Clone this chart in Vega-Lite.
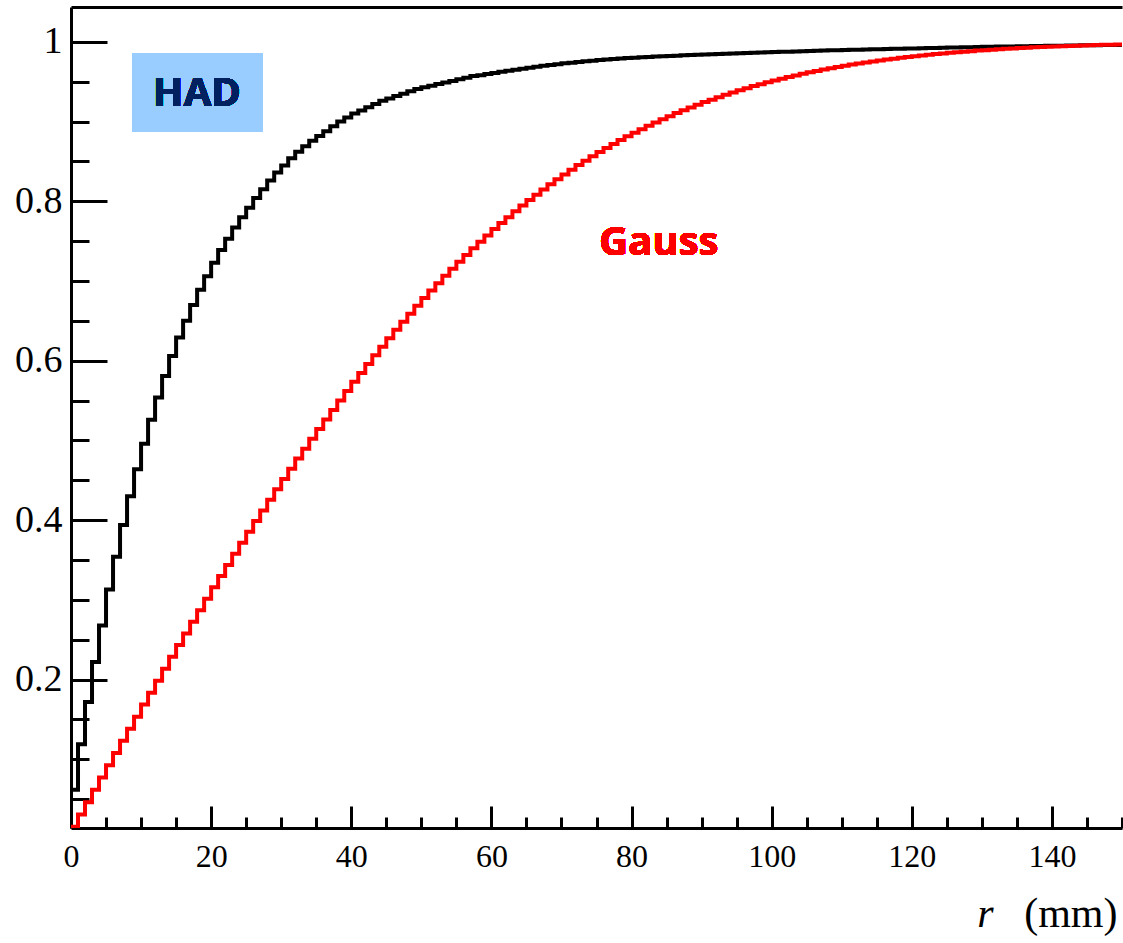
{
  "$schema": "https://vega.github.io/schema/vega-lite/v6.json",
  "autosize": {"type": "none"},
  "padding": {"left": 71, "top": 7, "right": 1, "bottom": 115},
  "width": 1051,
  "height": 821,
  "background": "white",
  "config": {"view": {"stroke": null}},
  "data": {"values": [
    {"r":0,"had":0.062,"gauss":0.0154},{"r":1,"had":0.119,"gauss":0.0309},{"r":2,"had":0.172,"gauss":0.0463},{"r":3,"had":0.222,"gauss":0.0618},{"r":4,"had":0.268,"gauss":0.0771},
    {"r":5,"had":0.313,"gauss":0.0925},{"r":6,"had":0.354,"gauss":0.1079},{"r":7,"had":0.394,"gauss":0.1232},{"r":8,"had":0.430,"gauss":0.1383},{"r":9,"had":0.464,"gauss":0.1535},
    {"r":10,"had":0.496,"gauss":0.1688},{"r":11,"had":0.526,"gauss":0.1837},{"r":12,"had":0.554,"gauss":0.1987},{"r":13,"had":0.581,"gauss":0.2137},{"r":14,"had":0.606,"gauss":0.2286},
    {"r":15,"had":0.629,"gauss":0.2433},{"r":16,"had":0.650,"gauss":0.2580},{"r":17,"had":0.670,"gauss":0.2726},{"r":18,"had":0.689,"gauss":0.2871},{"r":19,"had":0.706,"gauss":0.3014},
    {"r":20,"had":0.723,"gauss":0.3158},{"r":21,"had":0.739,"gauss":0.3300},{"r":22,"had":0.753,"gauss":0.3439},{"r":23,"had":0.767,"gauss":0.3578},{"r":24,"had":0.780,"gauss":0.3717},
    {"r":25,"had":0.792,"gauss":0.3855},{"r":26,"had":0.804,"gauss":0.3989},{"r":27,"had":0.815,"gauss":0.4123},{"r":28,"had":0.826,"gauss":0.4257},{"r":29,"had":0.836,"gauss":0.4387},
    {"r":30,"had":0.845,"gauss":0.4516},{"r":31,"had":0.854,"gauss":0.4645},{"r":32,"had":0.862,"gauss":0.4773},{"r":33,"had":0.869,"gauss":0.4896},{"r":34,"had":0.876,"gauss":0.5020},
    {"r":35,"had":0.882,"gauss":0.5144},{"r":36,"had":0.888,"gauss":0.5264},{"r":37,"had":0.894,"gauss":0.5383},{"r":38,"had":0.900,"gauss":0.5502},{"r":39,"had":0.905,"gauss":0.5621},
    {"r":40,"had":0.910,"gauss":0.5735},{"r":41,"had":0.914,"gauss":0.5847},{"r":42,"had":0.918,"gauss":0.5960},{"r":43,"had":0.922,"gauss":0.6070},{"r":44,"had":0.926,"gauss":0.6177},
    {"r":45,"had":0.929,"gauss":0.6282},{"r":46,"had":0.932,"gauss":0.6389},{"r":47,"had":0.935,"gauss":0.6490},{"r":48,"had":0.938,"gauss":0.6589},{"r":49,"had":0.941,"gauss":0.6689},
    {"r":50,"had":0.943,"gauss":0.6787},{"r":51,"had":0.945,"gauss":0.6880},{"r":52,"had":0.947,"gauss":0.6973},{"r":53,"had":0.949,"gauss":0.7065},{"r":54,"had":0.951,"gauss":0.7155},
    {"r":55,"had":0.953,"gauss":0.7241},{"r":56,"had":0.955,"gauss":0.7326},{"r":57,"had":0.957,"gauss":0.7412},{"r":58,"had":0.958,"gauss":0.7492},{"r":59,"had":0.9596,"gauss":0.7572},
    {"r":60,"had":0.9610,"gauss":0.7651},{"r":61,"had":0.9624,"gauss":0.7729},{"r":62,"had":0.9638,"gauss":0.7801},{"r":63,"had":0.9651,"gauss":0.7874},{"r":64,"had":0.9664,"gauss":0.7947},
    {"r":65,"had":0.9676,"gauss":0.8016},{"r":66,"had":0.9688,"gauss":0.8082},{"r":67,"had":0.9699,"gauss":0.8149},{"r":68,"had":0.9710,"gauss":0.8215},{"r":69,"had":0.9720,"gauss":0.8276},
    {"r":70,"had":0.9730,"gauss":0.8336},{"r":71,"had":0.9739,"gauss":0.8397},{"r":72,"had":0.9748,"gauss":0.8454},{"r":73,"had":0.9756,"gauss":0.8509},{"r":74,"had":0.9764,"gauss":0.8564},
    {"r":75,"had":0.9771,"gauss":0.8619},{"r":76,"had":0.9778,"gauss":0.8669},{"r":77,"had":0.9784,"gauss":0.8718},{"r":78,"had":0.9790,"gauss":0.8768},{"r":79,"had":0.9796,"gauss":0.8815},
    {"r":80,"had":0.9801,"gauss":0.8860},{"r":81,"had":0.9806,"gauss":0.8904},{"r":82,"had":0.9811,"gauss":0.8948},{"r":83,"had":0.9815,"gauss":0.8989},{"r":84,"had":0.9819,"gauss":0.9028},
    {"r":85,"had":0.9823,"gauss":0.9068},{"r":86,"had":0.9827,"gauss":0.9107},{"r":87,"had":0.9831,"gauss":0.9142},{"r":88,"had":0.9835,"gauss":0.9177},{"r":89,"had":0.9838,"gauss":0.9212},
    {"r":90,"had":0.9842,"gauss":0.9244},{"r":91,"had":0.9845,"gauss":0.9275},{"r":92,"had":0.9848,"gauss":0.9306},{"r":93,"had":0.9851,"gauss":0.9337},{"r":94,"had":0.9854,"gauss":0.9364},
    {"r":95,"had":0.9857,"gauss":0.9392},{"r":96,"had":0.9860,"gauss":0.9419},{"r":97,"had":0.9863,"gauss":0.9445},{"r":98,"had":0.9866,"gauss":0.9468},{"r":99,"had":0.9869,"gauss":0.9492},
    {"r":100,"had":0.9872,"gauss":0.9516},{"r":101,"had":0.9875,"gauss":0.9537},{"r":102,"had":0.9877,"gauss":0.9558},{"r":103,"had":0.9880,"gauss":0.9579},{"r":104,"had":0.9883,"gauss":0.9599},
    {"r":105,"had":0.9885,"gauss":0.9617},{"r":106,"had":0.9888,"gauss":0.9634},{"r":107,"had":0.9890,"gauss":0.9652},{"r":108,"had":0.9893,"gauss":0.9669},{"r":109,"had":0.9895,"gauss":0.9684},
    {"r":110,"had":0.9897,"gauss":0.9699},{"r":111,"had":0.9900,"gauss":0.9715},{"r":112,"had":0.9902,"gauss":0.9728},{"r":113,"had":0.9904,"gauss":0.9741},{"r":114,"had":0.9906,"gauss":0.9754},
    {"r":115,"had":0.9908,"gauss":0.9767},{"r":116,"had":0.9910,"gauss":0.9778},{"r":117,"had":0.9912,"gauss":0.9789},{"r":118,"had":0.9914,"gauss":0.9800},{"r":119,"had":0.9916,"gauss":0.9810},
    {"r":120,"had":0.9918,"gauss":0.9820},{"r":121,"had":0.9920,"gauss":0.9829},{"r":122,"had":0.9922,"gauss":0.9839},{"r":123,"had":0.9924,"gauss":0.9847},{"r":124,"had":0.9926,"gauss":0.9855},
    {"r":125,"had":0.9928,"gauss":0.9863},{"r":126,"had":0.9930,"gauss":0.9870},{"r":127,"had":0.9932,"gauss":0.9877},{"r":128,"had":0.9933,"gauss":0.9883},{"r":129,"had":0.9935,"gauss":0.9890},
    {"r":130,"had":0.9937,"gauss":0.9896},{"r":131,"had":0.9938,"gauss":0.9902},{"r":132,"had":0.9940,"gauss":0.9907},{"r":133,"had":0.9941,"gauss":0.9913},{"r":134,"had":0.9943,"gauss":0.9917},
    {"r":135,"had":0.9944,"gauss":0.9922},{"r":136,"had":0.9946,"gauss":0.9927},{"r":137,"had":0.9947,"gauss":0.9931},{"r":138,"had":0.9948,"gauss":0.9935},{"r":139,"had":0.9950,"gauss":0.9938},
    {"r":140,"had":0.9951,"gauss":0.9942},{"r":141,"had":0.9952,"gauss":0.9945},{"r":142,"had":0.9953,"gauss":0.9948},{"r":143,"had":0.9955,"gauss":0.9952},{"r":144,"had":0.9956,"gauss":0.9955},
    {"r":145,"had":0.9957,"gauss":0.9957},{"r":146,"had":0.9958,"gauss":0.9960},{"r":147,"had":0.9959,"gauss":0.9962},{"r":148,"had":0.9960,"gauss":0.9965},{"r":149,"had":0.9961,"gauss":0.9967},
    {"r":150,"had":0.9961,"gauss":0.9967}
  ]},
  "resolve": {"axis": {"x": "independent", "y": "independent"}},
  "layer": [
    {
      "mark": {"type": "line", "interpolate": "step-after", "color": "#000000", "strokeWidth": 4, "strokeJoin": "miter", "strokeCap": "square", "clip": true},
      "encoding": {
        "x": {"field": "r", "type": "quantitative",
          "scale": {"domain": [0, 150], "nice": false, "zero": false},
          "axis": {"orient": "bottom", "values": [0, 20, 40, 60, 80, 100, 120, 140], "ticks": false, "grid": false,
            "domain": true, "domainColor": "#000000", "domainWidth": 3,
            "labelFont": "Liberation Serif", "labelFontSize": 32, "labelColor": "#000000", "labelPadding": 13,
            "labelFlush": false, "labelOverlap": false, "labelBaseline": "top",
            "title": "(mm)", "titleFont": "Liberation Serif", "titleFontSize": 42, "titleFontWeight": "normal",
            "titleColor": "#000000", "titleX": 1046, "titleY": 98, "titleAlign": "right", "titleBaseline": "alphabetic"}},
        "y": {"field": "had", "type": "quantitative",
          "scale": {"domain": [0.0139, 1.0437], "nice": false, "zero": false},
          "axis": {"orient": "left", "values": [0.2, 0.4, 0.6, 0.8, 1], "format": "~g", "ticks": false, "grid": false,
            "domain": true, "domainColor": "#000000", "domainWidth": 3,
            "labelFont": "Liberation Serif", "labelFontSize": 38, "labelColor": "#000000", "labelPadding": 9,
            "labelFlush": false, "labelOverlap": false, "title": null}}
      }
    },
    {
      "mark": {"type": "line", "interpolate": "step-after", "color": "#FF0000", "strokeWidth": 4, "strokeJoin": "miter", "strokeCap": "square", "clip": true},
      "encoding": {
        "x": {"field": "r", "type": "quantitative",
          "axis": {"orient": "bottom", "values": [0, 20, 40, 60, 80, 100, 120, 140], "ticks": true, "tickSize": -22, "tickWidth": 3, "tickColor": "#000000",
            "labels": false, "domain": false, "grid": false, "title": null}},
        "y": {"field": "gauss", "type": "quantitative",
          "axis": {"orient": "left", "values": [0.2, 0.4, 0.6, 0.8, 1], "ticks": true, "tickSize": -36, "tickWidth": 3, "tickColor": "#000000",
            "labels": false, "domain": false, "grid": false, "title": null}}
      }
    },
    {
      "mark": {"type": "rect", "color": "#99CCFF"},
      "encoding": {
        "x": {"datum": 8.78, "type": "quantitative",
          "axis": {"orient": "bottom", "values": [5, 10, 15, 25, 30, 35, 45, 50, 55, 65, 70, 75, 85, 90, 95, 105, 110, 115, 125, 130, 135, 145, 150],
            "ticks": true, "tickSize": -11, "tickWidth": 3, "tickColor": "#000000", "labels": false, "domain": false, "grid": false, "title": null}},
        "x2": {"datum": 27.33},
        "y": {"datum": 0.8875, "type": "quantitative",
          "axis": {"orient": "left", "values": [0.05, 0.1, 0.15, 0.25, 0.3, 0.35, 0.45, 0.5, 0.55, 0.65, 0.7, 0.75, 0.85, 0.9, 0.95],
            "ticks": true, "tickSize": -18, "tickWidth": 3, "tickColor": "#000000", "labels": false, "domain": false, "grid": false, "title": null}},
        "y2": {"datum": 0.9853}
      }
    },
    {
      "mark": {"type": "text", "text": "HAD", "font": "Open Sans", "fontWeight": "bold", "fontSize": 40, "color": "#002060", "align": "center", "baseline": "middle"},
      "encoding": {
        "x": {"datum": 17.98, "type": "quantitative",
          "axis": {"orient": "top", "domain": true, "domainColor": "#000000", "domainWidth": 3, "ticks": false, "labels": false, "grid": false, "title": null}},
        "y": {"datum": 0.934, "type": "quantitative", "axis": null}
      }
    },
    {
      "mark": {"type": "text", "text": "Gauss", "font": "Open Sans", "fontWeight": "bold", "fontSize": 40, "color": "#FF0000", "align": "center", "baseline": "middle"},
      "encoding": {
        "x": {"datum": 83.9, "type": "quantitative",
          "axis": {"orient": "bottom", "domain": false, "ticks": false, "labels": false, "grid": false,
            "title": "r", "titleFont": "Liberation Serif", "titleFontSize": 42, "titleFontWeight": "normal", "titleFontStyle": "italic",
            "titleColor": "#000000", "titleX": 922, "titleY": 98, "titleAlign": "right", "titleBaseline": "alphabetic"}},
        "y": {"datum": 0.748, "type": "quantitative", "axis": null}
      }
    }
  ]
}
